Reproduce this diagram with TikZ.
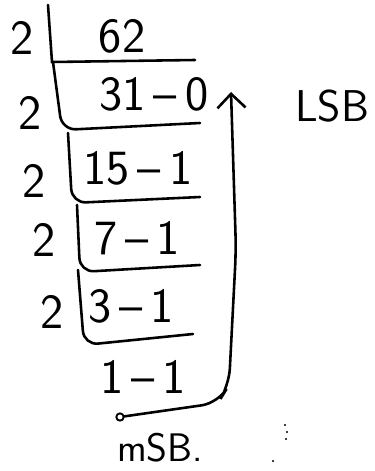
\documentclass[tikz,border=0pt]{standalone}
\usepackage{tikz}
\usetikzlibrary{arrows.meta}

\begin{document}
\begin{tikzpicture}[x=0.03cm,y=-0.03cm,line width=2.2pt,line cap=round,
  hand/.style={font=\fontsize{42}{46}\sffamily,inner sep=0pt},
  label/.style={font=\fontsize{38}{42}\sffamily,inner sep=0pt}]
\useasboundingbox (0,0) rectangle (375,471);
% Repeated division of 62 by 2
\node[hand] (d1) at (22,38) {2};
\node[hand] (d2) at (30,113) {2};
\node[hand] (d3) at (34,181) {2};
\node[hand] (d4) at (44,240) {2};
\node[hand] (d5) at (52,312) {2};
\node[hand] (q0) at (122,36) {62};
\node[hand] (q1) at (154,94) {31\,--\,0};
\node[hand] (q2) at (138,168) {15\,--\,1};
\node[hand] (q3) at (137,238) {7\,--\,1};
\node[hand] (q4) at (131,306) {3\,--\,1};
\node[hand] (q5) at (143,377) {1\,--\,1};
% division brackets
\draw (48,5) -- (52,62) -- (195,60);
\draw[rounded corners=12] (53,62) -- (62,130) -- (200,123);
\draw[rounded corners=12] (68,133) -- (72,203) -- (200,197);
\draw[rounded corners=12] (77,205) -- (80,272) -- (200,265);
\draw[rounded corners=12] (78,270) -- (84,345) -- (193,334);
% reading direction
\node[label] (lsb) at (332,106) {LSB};
\node[label,font=\fontsize{34}{38}\sffamily] (msb) at (160,448) {mSB.};
\node[draw,circle,line width=1.6pt,inner sep=0pt,minimum size=0.22cm] (msbdot) at (120,417) {};
\coordinate (lsbtip) at (231,92);
\draw[rounded corners=14,-{Straight Barb[length=12pt,width=24pt]}]
  (msbdot) -- (218,403) -- (229,385) -- (236,250) -- (lsbtip);
% stray pen dots
\foreach \p in {(285,425),(287,432),(286,439),(273,461)}
  \fill \p circle (1.2);
\end{tikzpicture}
\end{document}
